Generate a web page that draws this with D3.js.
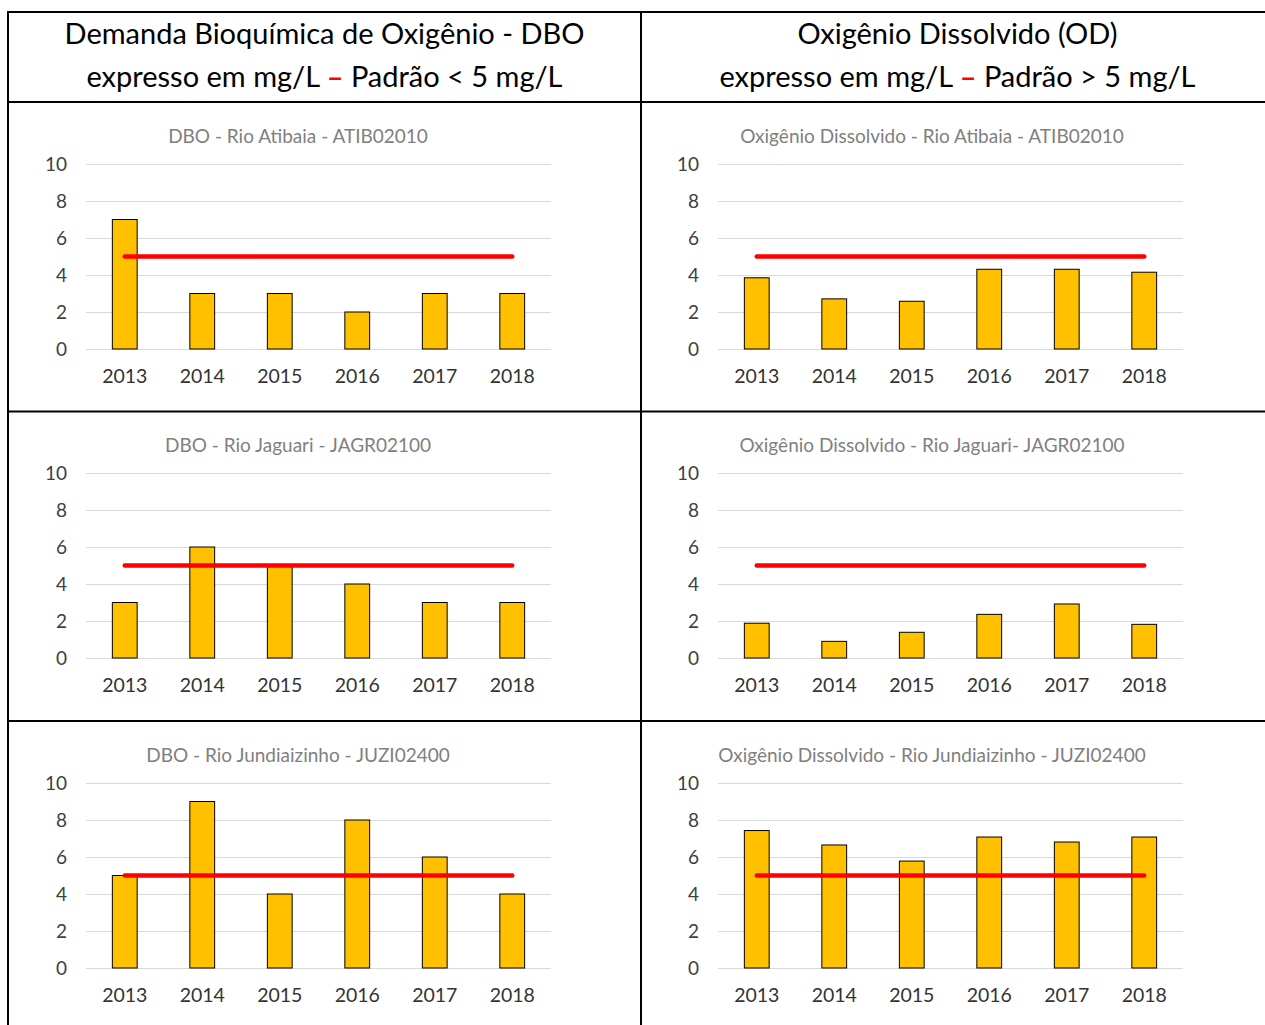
<!DOCTYPE html>
<html>
<head>
<meta charset="utf-8">
<script src="https://cdn.jsdelivr.net/npm/d3@7"></script>
<style>
  html, body { margin: 0; padding: 0; background: #fff; }
  svg { display: block; font-family: Lato, "Open Sans", sans-serif; }
</style>
</head>
<body>
<svg id="chart" width="1265" height="1025"></svg>
<script>
// ---- data ----
const years = ["2013", "2014", "2015", "2016", "2017", "2018"];
const yTicks = [0, 2, 4, 6, 8, 10];
const standardValue = 5;

const dboAtibaia = [7, 3, 3, 2, 3, 3];
const dboJaguari = [3, 6, 5, 4, 3, 3];
const dboJundiaizinho = [5, 9, 4, 8, 6, 4];

const odAtibaia = [3.85, 2.71, 2.58, 4.31, 4.31, 4.15];
const odJaguari = [1.88, 0.90, 1.39, 2.36, 2.92, 1.82];
const odJundiaizinho = [7.43, 6.65, 5.78, 7.08, 6.81, 7.08];

const dboTitles = ["DBO - Rio Atibaia - ATIB02010", "DBO - Rio Jaguari - JAGR02100", "DBO - Rio Jundiaizinho - JUZI02400"];
const odTitles = ["Oxigênio Dissolvido - Rio Atibaia - ATIB02010", "Oxigênio Dissolvido - Rio Jaguari- JAGR02100", "Oxigênio Dissolvido - Rio Jundiaizinho - JUZI02400"];

const headerLeft = ["Demanda Bioquímica de Oxigênio - DBO", ["expresso em mg/L ", "–", " Padrão < 5 mg/L"]];
const headerRight = ["Oxigênio Dissolvido (OD)", ["expresso em mg/L ", "–", " Padrão > 5 mg/L"]];

// ---- layout ----
const svg = d3.select("#chart");
const W = 1265, H = 1025;
const tableLeft = 8, tableTop = 12, colDiv = 641, headerBottom = 102;
const rowDivs = [411.5, 721];

// header texts
function header(cx, lines) {
  svg.append("text").attr("x", cx).attr("y", 44)
    .attr("text-anchor", "middle").attr("font-size", 29).attr("fill", "#000")
    .text(lines[0]);
  const t2 = svg.append("text").attr("x", cx).attr("y", 87)
    .attr("text-anchor", "middle").attr("font-size", 29).attr("fill", "#000");
  lines[1].forEach((s, i) => {
    t2.append("tspan").attr("fill", i === 1 ? "#ff0000" : "#000")
      .attr("font-weight", i === 1 ? "bold" : "normal")
      .attr("xml:space", "preserve").text(s);
  });
}
header(324.5, headerLeft);
header(957.5, headerRight);

// charts
const rowTops = [164, 473, 783];
const plotH = 185;
const panels = [
  { left: 86, right: 551, titleX: 298, titles: dboTitles, series: [dboAtibaia, dboJaguari, dboJundiaizinho] },
  { left: 718, right: 1183, titleX: 932, titles: odTitles, series: [odAtibaia, odJaguari, odJundiaizinho] }
];

panels.forEach(p => {
  p.series.forEach((vals, r) => {
    const top = rowTops[r];
    const g = svg.append("g").attr("transform", `translate(${p.left},${top})`);
    const w = p.right - p.left;
    const x = d3.scaleBand().domain(years).range([0, w]).paddingInner(0.68).paddingOuter(0.34);
    const y = d3.scaleLinear().domain([0, 10]).range([plotH, 0]);

    // title
    svg.append("text").attr("x", p.titleX).attr("y", top - 21)
      .attr("text-anchor", "middle").attr("font-size", 19).attr("fill", "#7f7f7f")
      .text(p.titles[r]);

    // y axis with gridlines
    const ya = g.append("g").call(d3.axisLeft(y).tickValues(yTicks).tickSize(-w).tickPadding(19).tickFormat(d3.format("d")));
    ya.select(".domain").remove();
    ya.selectAll(".tick line").attr("stroke", "#d9d9d9").attr("stroke-width", 1);
    ya.selectAll(".tick text").attr("font-size", 19).attr("fill", "#404040").attr("font-family", "Lato, sans-serif");

    // bars
    g.selectAll("rect.bar").data(vals).enter().append("rect")
      .attr("class", "bar")
      .attr("x", (d, i) => x(years[i]))
      .attr("width", x.bandwidth())
      .attr("y", d => y(d))
      .attr("height", d => y(0) - y(d))
      .attr("fill", "#ffc000").attr("stroke", "#000").attr("stroke-width", 1);

    // standard line
    const line = d3.line().x(d => x(d) + x.bandwidth() / 2).y(() => y(standardValue));
    g.append("path").datum([years[0], years[years.length - 1]])
      .attr("d", line).attr("stroke", "#ff0000").attr("stroke-width", 4.5)
      .attr("stroke-linecap", "round").attr("fill", "none");

    // x axis
    const xa = g.append("g").attr("transform", `translate(0,${plotH})`)
      .call(d3.axisBottom(x).tickSize(0).tickPadding(20));
    xa.select(".domain").remove();
    xa.selectAll(".tick text").attr("font-size", 19.5).attr("fill", "#333333").attr("font-family", "Lato, sans-serif");
  });
});

// table borders
const bc = "#000", bw = 2;
svg.append("line").attr("x1", tableLeft - 1).attr("x2", W).attr("y1", tableTop).attr("y2", tableTop).attr("stroke", bc).attr("stroke-width", bw);
svg.append("line").attr("x1", tableLeft - 1).attr("x2", W).attr("y1", headerBottom).attr("y2", headerBottom).attr("stroke", bc).attr("stroke-width", bw);
rowDivs.forEach(yv => {
  svg.append("line").attr("x1", tableLeft - 1).attr("x2", W).attr("y1", yv).attr("y2", yv).attr("stroke", bc).attr("stroke-width", bw);
});
svg.append("line").attr("x1", tableLeft).attr("x2", tableLeft).attr("y1", tableTop - 1).attr("y2", H).attr("stroke", bc).attr("stroke-width", bw);
svg.append("line").attr("x1", colDiv).attr("x2", colDiv).attr("y1", tableTop - 1).attr("y2", H).attr("stroke", bc).attr("stroke-width", bw);
</script>
</body>
</html>
